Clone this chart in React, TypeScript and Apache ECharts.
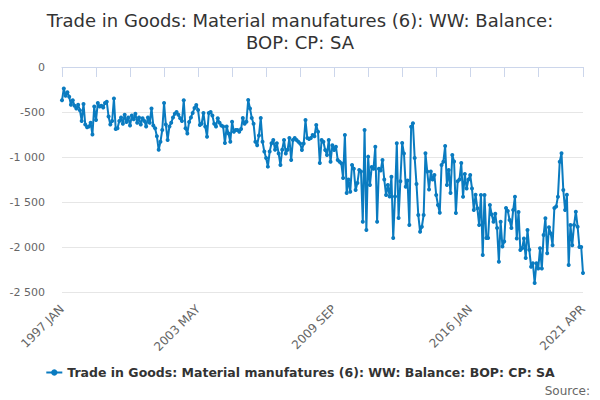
import React, { useEffect, useRef } from "react";
import * as echarts from "echarts";

const years: number[] = [];
for (let y = 1997; y <= 2021; y++) years.push(y);
const monthNames = ["JAN", "FEB", "MAR", "APR", "MAY", "JUN", "JUL", "AUG", "SEP", "OCT", "NOV", "DEC"];
const categories: string[] = [];
years.forEach((y) => {
  monthNames.forEach((m, mi) => {
    if (y < 2021 || mi <= 3) categories.push(`${y} ${m}`);
  });
});

const balance1997to2002: number[] = [
  -370, -240, -320, -280, -330, -420, -370, -430, -460, -420, -480, -600,
  -410, -640, -670, -660, -620, -750, -440, -590, -400, -440, -430, -450,
  -400, -385, -550, -640, -600, -350, -690, -680, -600, -560, -630, -530,
  -610, -560, -650, -540, -580, -520, -620, -560, -640, -570, -600, -660,
  -560, -620, -460, -650, -680, -770, -920, -830, -700, -400, -640, -810,
  -660, -620, -560, -520, -500, -530, -570, -600, -370, -680, -740, -610,
];
const balance2003to2008: number[] = [
  -560, -510, -456, -422, -478, -644, -630, -511, -660, -774, -511, -500,
  -540, -630, -660, -570, -620, -650, -660, -845, -660, -740, -830, -608,
  -720, -700, -700, -720, -690, -567, -630, -608, -367, -460, -567, -630,
  -830, -870, -760, -567, -830, -940, -1011, -1107, -940, -848, -810, -920,
  -848, -960, -1089, -920, -810, -960, -920, -790, -1033, -810, -790, -810,
  -830, -850, -922, -850, -589, -789, -800, -789, -756, -770, -644, -719,
];
const balance2009to2014: number[] = [
  -1067, -811, -830, -922, -978, -811, -1052, -870, -922, -885, -1033, -1052,
  -1070, -1233, -756, -1400, -1250, -1385, -1089, -1130, -1367, -1290, -1144, -1160,
  -1719, -700, -1811, -996, -1311, -1110, -1130, -885, -1719, -1130, -1150, -1033,
  -1250, -1422, -1311, -1440, -1219, -1900, -1440, -848, -1678, -1270, -844, -960,
  -1330, -1260, -1756, -663, -626, -1011, -1300, -1644, -1830, -1775, -1644, -959,
  -1160, -1360, -1160, -1250, -1200, -1422, -1533, -1619, -1089, -1052, -878, -1311,
];
const balance2015to2021: number[] = [
  -1144, -1400, -978, -1050, -1622, -1270, -1250, -1067, -1441, -1190, -1350, -1250,
  -1200, -1350, -1589, -1420, -1570, -1756, -1422, -2089, -1422, -1900, -1900, -1533,
  -1640, -1720, -1630, -1790, -2163, -1720, -1995, -1940, -1567, -1600, -1700, -1790,
  -1590, -1441, -1905, -1610, -2033, -2015, -1905, -2122, -1810, -2030, -2219, -2180,
  -2400, -2180, -2240, -2015, -2240, -1867, -1680, -2070, -1780, -1850, -1980, -1567,
  -1550, -1441, -1052, -959, -1367, -1590, -1420, -2200, -1756, -1980, -1756, -1608,
  -1775, -2000, -2000, -2289,
];
const values: number[] = [
  ...balance1997to2002,
  ...balance2003to2008,
  ...balance2009to2014,
  ...balance2015to2021,
];

const seriesName = "Trade in Goods: Material manufatures (6): WW: Balance: BOP: CP: SA";
const titleText = "Trade in Goods: Material manufatures (6): WW: Balance:\nBOP: CP: SA";
const sourceText = "Source:";

const FONT = "DejaVu Sans";

function fmt(v: number): string {
  const s = Math.abs(v).toString().replace(/\B(?=(\d{3})+(?!\d))/g, " ");
  return (v < 0 ? "-" : "") + s;
}

export default function App() {
  const ref = useRef<HTMLDivElement>(null);
  useEffect(() => {
    document.body.style.margin = "0";
    if (!ref.current) return;
    const chart = echarts.init(ref.current, null, { renderer: "svg" });
    const last = categories.length - 1;
    chart.setOption({
      animation: false,
      backgroundColor: "#ffffff",
      textStyle: { fontFamily: FONT },
      title: {
        text: titleText,
        left: "center",
        top: 4,
        textStyle: {
          fontFamily: FONT,
          fontSize: 18,
          fontWeight: "normal",
          color: "#333333",
          lineHeight: 22,
        },
      },
      grid: { left: 62, right: 17, top: 67, bottom: 108, containLabel: false },
      xAxis: {
        type: "category",
        data: categories,
        boundaryGap: false,
        axisLine: { lineStyle: { color: "#ccd6eb", width: 1 } },
        axisTick: {
          show: true,
          length: 10,
          lineStyle: { color: "#ccd6eb" },
          interval: (idx: number) => (idx % 19 === 0 && idx <= 266) || idx === last,
        },
        axisLabel: {
          rotate: 45,
          color: "#666666",
          fontFamily: FONT,
          fontSize: 12,
          margin: 15,
          interval: (idx: number) => idx % 76 === 0 || idx === last,
          showMaxLabel: true,
        },
        splitLine: { show: false },
      },
      yAxis: {
        type: "value",
        min: -2500,
        max: 0,
        interval: 500,
        axisLine: { show: false },
        axisTick: { show: false },
        axisLabel: {
          color: "#666666",
          fontFamily: FONT,
          fontSize: 11,
          margin: 17,
          formatter: (v: number) => fmt(v),
        },
        splitLine: { lineStyle: { color: "#e6e6e6", width: 1 } },
      },
      legend: {
        bottom: 16,
        left: "center",
        itemWidth: 16,
        itemHeight: 8,
        itemGap: 10,
        textStyle: {
          fontFamily: FONT,
          fontSize: 12.5,
          fontWeight: "bold",
          color: "#333333",
        },
        data: [seriesName],
      },
      graphic: [
        {
          type: "text",
          right: 10,
          top: 385,
          style: {
            text: sourceText,
            fill: "#666666",
            font: `12px "${FONT}"`,
          },
        },
      ],
      series: [
        {
          name: seriesName,
          type: "line",
          data: values,
          color: "#0a7bc0",
          lineStyle: { width: 2, color: "#0a7bc0" },
          itemStyle: { color: "#0a7bc0" },
          symbol: "circle",
          symbolSize: 4,
          showSymbol: true,
          showAllSymbol: true,
        },
      ],
    });
    return () => chart.dispose();
  }, []);
  return <div ref={ref} style={{ width: 600, height: 400 }} />;
}
